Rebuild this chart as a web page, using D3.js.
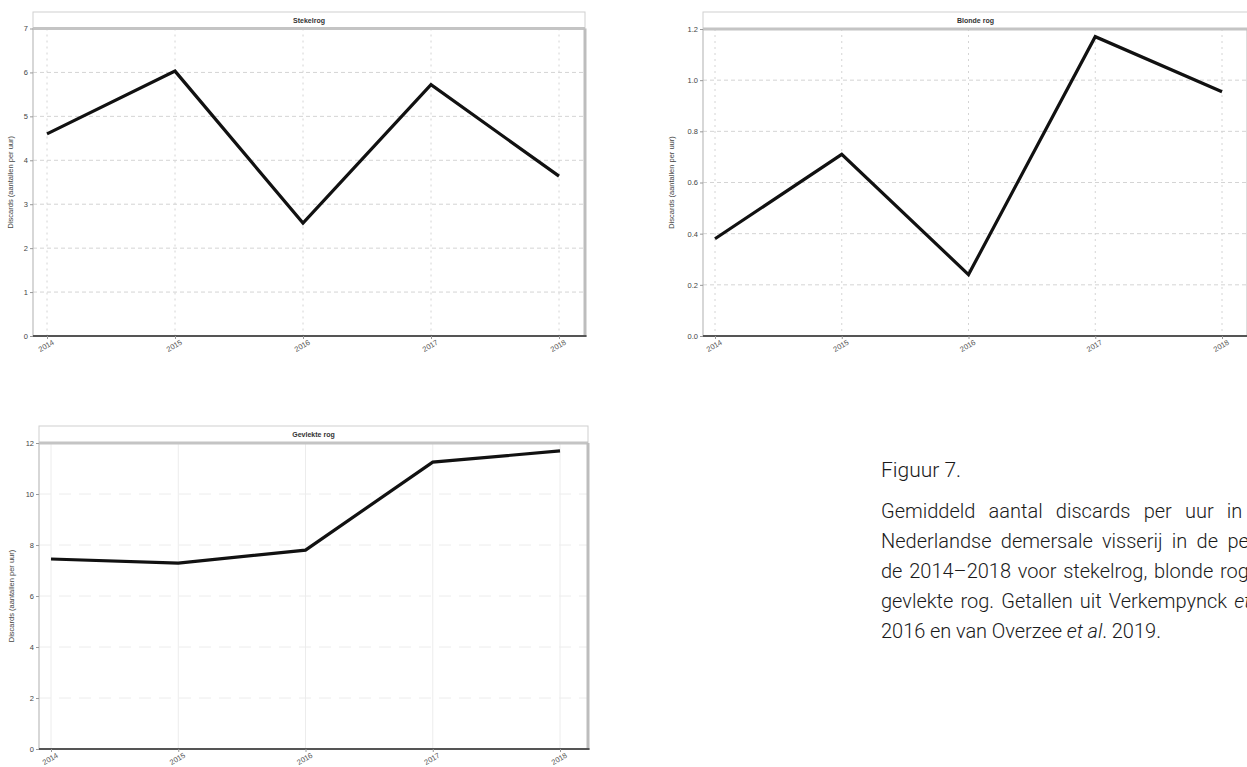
<!DOCTYPE html>
<html>
<head>
    <title>Discards per uur</title>
    <script src="https://d3js.org/d3.v7.min.js"></script>
    <style>
        body { margin: 0; background: #fff; }
        svg { display: block; }
        .tick text { font-family: "Liberation Sans", Arial, sans-serif; }
    </style>
</head>
<body>
    <div id="chart"></div>

    <script>
        // data
        const years = [2014, 2015, 2016, 2017, 2018];
        const stekelrog = [4.6, 6.03, 2.57, 5.72, 3.64];
        const blondeRog = [0.38, 0.71, 0.24, 1.17, 0.955];
        const gevlekteRog = [7.45, 7.29, 7.8, 11.25, 11.69];

        const titles = ["Stekelrog", "Blonde rog", "Gevlekte rog"];
        const yTicks1 = [0, 1, 2, 3, 4, 5, 6, 7];
        const yTicks2 = [0, 0.2, 0.4, 0.6, 0.8, 1.0, 1.2];
        const yTicks3 = [0, 2, 4, 6, 8, 10, 12];
        const yTitle = "Discards (aantallen per uur)";

        const captionHead = "Figuur 7.";
        const captionLines = [
            "Gemiddeld aantal discards per uur in de",
            "Nederlandse demersale visserij in de perio-",
            "de 2014\u20132018 voor stekelrog, blonde rog en",
            "gevlekte rog. Getallen uit Verkempynck |et al.|",
            "2016 en van Overzee |et al|. 2019."
        ];

        const W = 1247, H = 767;
        const svg = d3.select("#chart").append("svg")
            .attr("width", W)
            .attr("height", H);

        const panels = [
            { title: titles[0], values: stekelrog, ticks: yTicks1, fmt: d3.format("d"),
              left: 33, right: 585, stripTop: 12, top: 28.5, bottom: 336, padL: 14, padR: 26, ymax: 7, titleX: 13, grid: "dash" },
            { title: titles[1], values: blondeRog, ticks: yTicks2, fmt: d3.format(".1f"),
              left: 703, right: 1248, stripTop: 12, top: 29, bottom: 336, padL: 12, padR: 26, ymax: 1.2, titleX: 674, grid: "dash" },
            { title: titles[2], values: gevlekteRog, ticks: yTicks3, fmt: d3.format("d"),
              left: 39, right: 588, stripTop: 426, top: 443, bottom: 749, padL: 12, padR: 28, ymax: 12, titleX: 14, grid: "faint" }
        ];

        panels.forEach(p => {
            const x = d3.scaleLinear().domain([2014, 2018]).range([p.left + p.padL, p.right - p.padR]);
            const y = d3.scaleLinear().domain([0, p.ymax]).range([p.bottom, p.top]);
            const g = svg.append("g");

            const gridCol = p.grid === "dash" ? "#d4d4d4" : "#ececec";

            // horizontal grid
            g.selectAll(".hg").data(p.ticks.slice(1, -1)).join("line")
                .attr("x1", p.left).attr("x2", p.right)
                .attr("y1", d => y(d)).attr("y2", d => y(d))
                .attr("stroke", gridCol).attr("stroke-width", 1)
                .attr("stroke-dasharray", p.grid === "dash" ? "4,3" : "12,8");

            // vertical grid
            g.selectAll(".vg").data(years).join("line")
                .attr("x1", d => x(d)).attr("x2", d => x(d))
                .attr("y1", p.top).attr("y2", p.bottom)
                .attr("stroke", gridCol).attr("stroke-width", 1)
                .attr("stroke-dasharray", p.grid === "dash" ? "2,4" : null);

            // strip
            g.append("rect")
                .attr("x", p.left).attr("y", p.stripTop)
                .attr("width", p.right - p.left).attr("height", p.top - p.stripTop)
                .attr("fill", "#fff").attr("stroke", "#cfcfcf").attr("stroke-width", 1);
            g.append("line")
                .attr("x1", p.left).attr("x2", p.right)
                .attr("y1", p.top).attr("y2", p.top)
                .attr("stroke", "#c4c4c4").attr("stroke-width", 3);
            g.append("text")
                .attr("x", (p.left + p.right) / 2).attr("y", (p.stripTop + p.top) / 2 + 2.5)
                .attr("text-anchor", "middle")
                .attr("font-family", "Liberation Sans, Arial, sans-serif")
                .attr("font-size", 7).attr("font-weight", "bold").attr("fill", "#333")
                .text(p.title);

            // panel border: left thin, right thick
            g.append("line")
                .attr("x1", p.left).attr("x2", p.left)
                .attr("y1", p.top).attr("y2", p.bottom)
                .attr("stroke", "#bdbdbd").attr("stroke-width", 1.2);
            g.append("line")
                .attr("x1", p.right).attr("x2", p.right)
                .attr("y1", p.top).attr("y2", p.bottom + 1)
                .attr("stroke", "#bdbdbd").attr("stroke-width", 3);

            // y axis
            const ya = g.append("g")
                .attr("transform", `translate(${p.left},0)`)
                .call(d3.axisLeft(y).tickValues(p.ticks).tickFormat(p.fmt).tickSize(3).tickPadding(2));
            ya.select(".domain").remove();
            ya.selectAll(".tick line").attr("stroke", "#999");
            ya.selectAll(".tick text").attr("font-size", 7.5).attr("fill", "#444");

            // x axis
            const xa = g.append("g")
                .attr("transform", `translate(0,${p.bottom})`)
                .call(d3.axisBottom(x).tickValues(years).tickFormat(d3.format("d")).tickSize(3));
            xa.select(".domain")
                .attr("d", `M${p.left},0H${p.right + 1.5}`)
                .attr("stroke", "#555").attr("stroke-width", 2);
            xa.selectAll(".tick line").attr("stroke", "#999");
            xa.selectAll(".tick text")
                .attr("font-size", 7.5).attr("fill", "#555")
                .attr("text-anchor", "middle")
                .attr("dy", null).attr("y", 0)
                .attr("transform", "translate(0,12) rotate(-30)");

            // y title
            svg.append("text")
                .attr("transform", `translate(${p.titleX},${(p.top + p.bottom) / 2}) rotate(-90)`)
                .attr("text-anchor", "middle")
                .attr("font-family", "Liberation Sans, Arial, sans-serif")
                .attr("font-size", 7.5).attr("fill", "#444")
                .text(yTitle);

            // the line
            const line = d3.line()
                .x((d, i) => x(years[i]))
                .y(d => y(d));
            g.append("path")
                .datum(p.values)
                .attr("d", line)
                .attr("fill", "none")
                .attr("stroke", "#111")
                .attr("stroke-width", 3.2)
                .attr("stroke-linejoin", "miter");
        });

        // caption, justified (runs past the right edge, as in the source)
        const capX = 881, capW = 396, capFont = "Roboto, 'Noto Sans', sans-serif", capSize = 20;
        svg.append("text")
            .attr("x", capX).attr("y", 477)
            .attr("font-family", capFont).attr("font-weight", 300)
            .attr("font-size", capSize + 1).attr("fill", "#1a1a1a")
            .text(captionHead);

        captionLines.forEach((ln, i) => {
            const t = svg.append("text")
                .attr("y", 518 + i * 30)
                .attr("font-family", capFont).attr("font-weight", 300)
                .attr("font-size", capSize).attr("fill", "#1a1a1a");
            // split into words, "|" toggles italic (state carries across words)
            const words = ln.split(" ");
            let italic = false;
            const spans = words.map(w => {
                const grp = t.append("tspan");
                w.split("|").forEach((part, k) => {
                    if (k > 0) italic = !italic;
                    if (part === "") return;
                    grp.append("tspan")
                        .attr("font-style", italic ? "italic" : null)
                        .text(part);
                });
                return grp;
            });
            const space = 4.6;
            const widths = spans.map(s => s.node().getComputedTextLength());
            const total = d3.sum(widths);
            const last = i === captionLines.length - 1;
            const gap = last ? space : (capW - total) / (words.length - 1);
            let cx = capX;
            spans.forEach((s, k) => {
                s.attr("x", cx);
                cx += widths[k] + gap;
            });
        });
    </script>
</body>
</html>
